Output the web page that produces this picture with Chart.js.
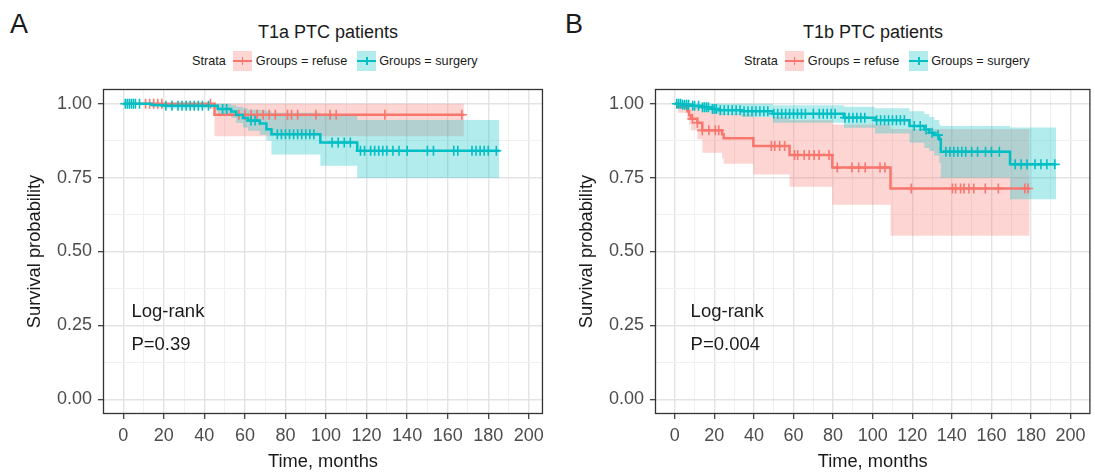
<!DOCTYPE html>
<html>
<head>
<meta charset="utf-8">
<script src="https://cdn.jsdelivr.net/npm/chart.js@4.4.1/dist/chart.umd.min.js"></script>
<style>
    body { margin: 0; width: 1095px; height: 472px; overflow: hidden; background: #fff;
           font-family: 'Liberation Sans', Arial, Helvetica, sans-serif; color: #1a1a1a; }
    .panel { position: absolute; top: 0; height: 472px; }
    .tag { position: absolute; top: 8px; font-size: 27px; line-height: 32px; }
    .title { position: absolute; top: 22px; font-size: 18px; line-height: 21px; transform: translateX(-50%); white-space: nowrap; }
    .legend { position: absolute; top: 51px; display: flex; align-items: center; font-size: 12.7px; white-space: nowrap; }
    .key { position: relative; width: 19px; height: 20px; margin: 0 4px 0 7px; }
    .key.second { margin-left: 10px; margin-right: 3px; }
    .key i { position: absolute; left: 0; right: 0; top: 9px; height: 2.2px; }
    .key b { position: absolute; left: 9px; top: 6px; width: 1.5px; height: 8px; }
    .refuse { background: rgba(248, 118, 109, 0.3); }
    .refuse i, .refuse b { background: #F8766D; }
    .surgery { background: rgba(0, 191, 196, 0.3); }
    .surgery i, .surgery b { background: #00BFC4; }
</style>
</head>
<body>
<div class="tag" style="left:10px">A</div>
<div class="title" style="left:328px">T1a PTC patients</div>
<div class="legend" style="left:192px">
    <span>Strata</span>
    <span class="key refuse"><i></i><b></b></span><span>Groups = refuse</span>
    <span class="key surgery second"><i></i><b></b></span><span>Groups = surgery</span>
</div>
<div class="panel" style="left:0; width:550px"><canvas id="chartA"></canvas></div>

<div class="tag" style="left:565px">B</div>
<div class="title" style="left:873px">T1b PTC patients</div>
<div class="legend" style="left:744px">
    <span>Strata</span>
    <span class="key refuse"><i></i><b></b></span><span>Groups = refuse</span>
    <span class="key surgery second"><i></i><b></b></span><span>Groups = surgery</span>
</div>
<div class="panel" style="left:552px; width:545px"><canvas id="chartB"></canvas></div>

<script>
// axis ticks
const xTickValues = [0, 20, 40, 60, 80, 100, 120, 140, 160, 180, 200];
const xTickLabels = ['0', '20', '40', '60', '80', '100', '120', '140', '160', '180', '200'];
const yTickValues = [0, 0.25, 0.5, 0.75, 1];
const yTickLabels = ['0.00', '0.25', '0.50', '0.75', '1.00'];

// Panel A - T1a, refuse
const aRefuseTime = [0, 45, 168];
const aRefuseSurv = [1, 0.963, 0.963];
const aRefuseUpper = [1, 1, 1];
const aRefuseLower = [1, 0.89, 0.89];
const aRefuseCensor = [11, 13, 15, 17, 19, 43, 57, 60, 63, 66, 69, 72, 75, 81, 83, 86, 95, 102, 105, 129, 167];

// Panel A - T1a, surgery
const aSurgeryTime = [0, 14, 20, 46.6, 53.2, 55.7, 59, 61.5, 67.3, 70.6, 73.1, 97.2, 115.4, 185.5];
const aSurgerySurv = [1, 0.996, 0.993, 0.982, 0.974, 0.962, 0.952, 0.943, 0.933, 0.914, 0.897, 0.869, 0.841, 0.841];
const aSurgeryUpper = [1, 1, 1, 1, 0.995, 0.99, 0.985, 0.98, 0.978, 0.975, 0.97, 0.965, 0.945, 0.945];
const aSurgeryLower = [1, 0.988, 0.984, 0.965, 0.953, 0.935, 0.92, 0.909, 0.895, 0.875, 0.828, 0.79, 0.749, 0.749];
const aSurgeryCensor = [1, 2, 3, 4, 5, 6, 8, 21, 24, 27, 29, 31, 33, 35, 37, 39, 42, 49, 51, 63, 65,
    76, 78, 80, 82, 84, 86, 88, 90, 92, 94, 103, 106, 109, 112, 117, 119, 122, 124, 126, 128, 130,
    133, 136, 140, 150, 153, 163, 165, 172, 174, 176, 178, 180, 184];

// Panel B - T1b, refuse
const bRefuseTime = [0, 1.6, 6.4, 7.2, 8.1, 11.4, 13.9, 23.9, 24.7, 39.7, 58, 79.6, 109, 179.3];
const bRefuseSurv = [1, 0.989, 0.975, 0.961, 0.949, 0.936, 0.91, 0.897, 0.883, 0.857, 0.827, 0.784, 0.713, 0.713];
const bRefuseUpper = [1, 1, 1, 0.995, 0.99, 0.985, 0.975, 0.97, 0.965, 0.955, 0.945, 0.93, 0.915, 0.915];
const bRefuseLower = [1, 0.97, 0.945, 0.93, 0.91, 0.88, 0.834, 0.815, 0.797, 0.761, 0.719, 0.658, 0.553, 0.553];
const bRefuseCensor = [8.9, 11.4, 13.9, 17.2, 20.5, 22.2, 48.8, 50.5, 53, 55.5, 60.5, 62.1, 65.4, 67.9,
    70.4, 72.9, 77.9, 82.1, 89.5, 92.9, 96.2, 103.7, 106.2, 119.5, 140.3, 141.9, 144.4, 146.1, 148.6,
    151.1, 156.9, 163.5, 176.9, 178.5];

// Panel B - T1b, surgery
const bSurgeryTime = [0, 4, 8.9, 13.9, 18.9, 22.2, 33.8, 49.6, 85.4, 101.2, 118.6, 126.1, 128.6, 131.1, 133.6, 134.4, 169.4, 192.7];
const bSurgerySurv = [1, 0.997, 0.993, 0.988, 0.982, 0.978, 0.975, 0.966, 0.953, 0.944, 0.925, 0.913, 0.902, 0.894, 0.88, 0.838, 0.795, 0.795];
const bSurgeryUpper = [1, 1, 1, 1, 1, 1, 1, 0.995, 0.99, 0.985, 0.975, 0.965, 0.955, 0.945, 0.93, 0.925, 0.92, 0.92];
const bSurgeryLower = [1, 0.99, 0.982, 0.975, 0.968, 0.962, 0.955, 0.936, 0.919, 0.899, 0.868, 0.85, 0.84, 0.825, 0.8, 0.75, 0.677, 0.677];
const bSurgeryCensor = [1, 2, 3, 4, 5, 6, 7, 9, 10, 12, 14, 15, 16, 17, 19, 20, 21, 23, 25, 27, 29, 31,
    33, 35, 37, 39, 41, 43, 45, 47, 50, 52, 54, 56, 58, 60, 62, 64, 66, 70, 73, 75, 77, 79, 81, 86, 88,
    90, 92, 94, 96, 102, 104, 106, 108, 110, 112, 114, 116, 121, 124, 127, 130, 133, 137, 139, 141,
    143, 145, 147, 150, 153, 157, 160, 164, 172, 175, 178, 182, 185, 188, 192];

const FONT = "'Liberation Sans', Arial, Helvetica, sans-serif";
const REFUSE = '#F8766D';
const SURGERY = '#00BFC4';

function toPoints(times, values) {
    return times.map((t, i) => ({ x: t, y: values[i] }));
}

// value of the step curve at time t
function kmAt(times, surv, t) {
    let v = surv[0];
    for (let i = 0; i < times.length; i++) {
        if (times[i] <= t) v = surv[i];
    }
    return v;
}

function censorPoints(times, surv, marks) {
    return marks.map(t => ({ x: t, y: kmAt(times, surv, t) }));
}

// major ticks plus a minor one half way between each pair
function gridTicks(majors) {
    const ticks = [];
    majors.forEach((v, i) => {
        ticks.push({ value: v });
        if (i < majors.length - 1) ticks.push({ value: (v + majors[i + 1]) / 2, minor: true });
    });
    return ticks;
}

function labelFor(values, labels, value) {
    const i = values.findIndex(v => Math.abs(v - value) < 1e-9);
    return i >= 0 ? labels[i] : '';
}

const gridColor = c => (c.tick && c.tick.minor ? '#f0f0f0' : '#e3e3e3');
const gridWidth = c => (c.tick && c.tick.minor ? 1 : 1.4);
const tickColor = c => (c.tick && c.tick.minor ? 'rgba(0,0,0,0)' : '#333333');

const panelBorder = {
    id: 'panelBorder',
    afterDraw(chart) {
        const { ctx, chartArea: a } = chart;
        ctx.save();
        ctx.strokeStyle = '#333333';
        ctx.lineWidth = 1.3;
        ctx.strokeRect(a.left + 0.5, a.top + 0.5, a.right - a.left - 1, a.bottom - a.top - 1);
        ctx.restore();
    }
};

const logRankNote = {
    id: 'logRankNote',
    afterDatasetsDraw(chart, args, opts) {
        const { ctx, scales } = chart;
        ctx.save();
        ctx.fillStyle = '#1a1a1a';
        ctx.font = '18.5px ' + FONT;
        ctx.textAlign = 'left';
        ctx.textBaseline = 'middle';
        const x = scales.x.getPixelForValue(opts.x);
        ctx.fillText('Log-rank', x, scales.y.getPixelForValue(0.295));
        ctx.fillText(opts.p, x, scales.y.getPixelForValue(0.185));
        ctx.restore();
    }
};

function createSurvivalChart(ctx, panel) {
    try {
        if (typeof Chart === 'undefined') {
            throw new Error('Chart.js is not loaded');
        }

        const lineSet = (label, times, surv, color) => ({
            label: label,
            data: toPoints(times, surv),
            borderColor: color,
            borderWidth: 2.5,
            pointRadius: 0,
            stepped: 'before',
            fill: false
        });
        const censorSet = (label, times, surv, marks, color) => ({
            label: label,
            data: censorPoints(times, surv, marks),
            showLine: false,
            pointStyle: 'cross',
            pointRadius: 5,
            pointBorderWidth: 1.6,
            pointBorderColor: color,
            borderColor: color
        });
        const bandSet = (label, times, values, fillColor, fill) => ({
            label: label,
            data: toPoints(times, values),
            borderWidth: 0,
            pointRadius: 0,
            stepped: 'before',
            backgroundColor: fillColor,
            fill: fill
        });

        const s = panel.surgery;
        const r = panel.refuse;

        return new Chart(ctx, {
            type: 'line',
            data: {
                datasets: [
                    censorSet('surgery censor', s.time, s.surv, s.censor, SURGERY),
                    lineSet('Groups = surgery', s.time, s.surv, SURGERY),
                    censorSet('refuse censor', r.time, r.surv, r.censor, REFUSE),
                    lineSet('Groups = refuse', r.time, r.surv, REFUSE),
                    bandSet('surgery upper', s.time, s.upper, 'rgba(0,191,196,0.3)', false),
                    bandSet('surgery lower', s.time, s.lower, 'rgba(0,191,196,0.3)', '-1'),
                    bandSet('refuse upper', r.time, r.upper, 'rgba(248,118,109,0.3)', false),
                    bandSet('refuse lower', r.time, r.lower, 'rgba(248,118,109,0.3)', '-1')
                ]
            },
            options: {
                responsive: true,
                maintainAspectRatio: false,
                animation: false,
                events: [],
                layout: {
                    padding: { top: 89, right: panel.padRight, left: 0, bottom: 0 }
                },
                scales: {
                    x: {
                        type: 'linear',
                        min: -10,
                        max: panel.xMax,
                        afterBuildTicks: scale => { scale.ticks = gridTicks(xTickValues); },
                        afterFit: scale => { scale.height = 58; },
                        border: { display: false },
                        grid: { color: gridColor, lineWidth: gridWidth, tickColor: tickColor, tickLength: 5, tickWidth: 1.2 },
                        ticks: {
                            autoSkip: false,
                            maxRotation: 0,
                            padding: 6,
                            color: '#4d4d4d',
                            font: { family: FONT, size: 18 },
                            callback: value => labelFor(xTickValues, xTickLabels, value)
                        },
                        title: {
                            display: true,
                            text: 'Time, months',
                            color: '#1a1a1a',
                            font: { family: FONT, size: 18.3, lineHeight: 1.1 },
                            padding: { top: 0, bottom: 0 }
                        }
                    },
                    y: {
                        type: 'linear',
                        min: -0.05,
                        max: 1.05,
                        afterBuildTicks: scale => { scale.ticks = gridTicks(yTickValues); },
                        afterFit: scale => { scale.width = 103; },
                        border: { display: false },
                        grid: { color: gridColor, lineWidth: gridWidth, tickColor: tickColor, tickLength: 5, tickWidth: 1.2 },
                        ticks: {
                            autoSkip: false,
                            padding: 6,
                            color: '#4d4d4d',
                            font: { family: FONT, size: 18 },
                            callback: value => labelFor(yTickValues, yTickLabels, value)
                        },
                        title: {
                            display: true,
                            text: 'Survival probability',
                            color: '#1a1a1a',
                            font: { family: FONT, size: 18.3, lineHeight: 1.2 },
                            padding: { top: 24, bottom: 0 }
                        }
                    }
                },
                plugins: {
                    legend: { display: false },
                    tooltip: { enabled: false },
                    title: { display: false },
                    logRankNote: { x: panel.noteX, p: panel.pText }
                }
            },
            plugins: [panelBorder, logRankNote]
        });
    } catch (error) {
        console.error('Chart creation error:', error);
    }
}

createSurvivalChart(document.getElementById('chartA'), {
    refuse: { time: aRefuseTime, surv: aRefuseSurv, upper: aRefuseUpper, lower: aRefuseLower, censor: aRefuseCensor },
    surgery: { time: aSurgeryTime, surv: aSurgerySurv, upper: aSurgeryUpper, lower: aSurgeryLower, censor: aSurgeryCensor },
    padRight: 5,
    xMax: 207,
    noteX: 4,
    pText: 'P=0.39'
});

createSurvivalChart(document.getElementById('chartB'), {
    refuse: { time: bRefuseTime, surv: bRefuseSurv, upper: bRefuseUpper, lower: bRefuseLower, censor: bRefuseCensor },
    surgery: { time: bSurgeryTime, surv: bSurgerySurv, upper: bSurgeryUpper, lower: bSurgeryLower, censor: bSurgeryCensor },
    padRight: 1,
    xMax: 210,
    noteX: 8,
    pText: 'P=0.004'
});
</script>
</body>
</html>
